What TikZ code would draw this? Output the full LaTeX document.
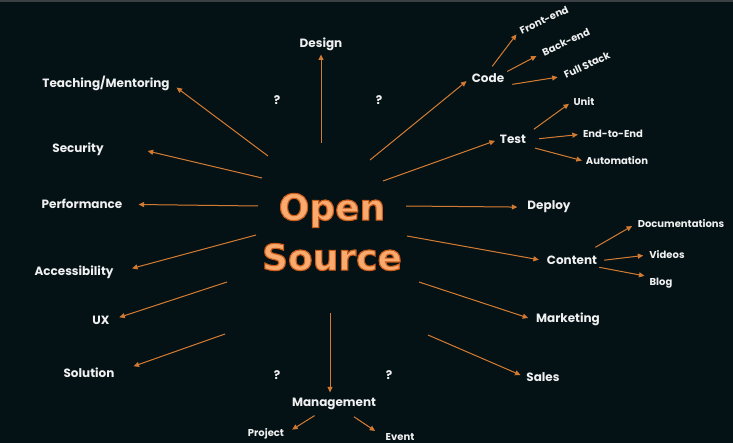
\documentclass[tikz,border=0pt]{standalone}
\usepackage{fontspec}
\setmainfont{Poppins}
\newfontfamily\osfont{DejaVu Sans}
\usetikzlibrary{arrows.meta}

\definecolor{bgdark}{HTML}{041216}
\definecolor{topbar}{HTML}{3A4044}
\definecolor{spokecol}{HTML}{D27A32}
\definecolor{labelcol}{HTML}{F0F0F0}
\definecolor{osfill}{HTML}{F9AA6E}

\begin{document}
\begin{tikzpicture}[
    x=1pt, y=-1pt,
    lbl/.style={font=\bfseries\fontsize{12}{14}\selectfont, text=labelcol, inner sep=2pt, anchor=base},
    sublbl/.style={lbl, font=\bfseries\fontsize{10}{12}\selectfont},
    spoke/.style={-{Triangle[length=5.5pt,width=5pt]}, draw=spokecol, fill=spokecol, line width=1pt},
    ostext/.style={font=\osfont\bfseries\fontsize{36}{50}\selectfont, text=osfill, align=center, inner sep=0pt}
]
% background
\fill[bgdark] (0,0) rectangle (733,443);
\fill[topbar] (0,0) rectangle (733,2.5);

% left side
\node[lbl] (design) at (321,48) {Design};
\node[lbl] (teach) at (106,88) {Teaching/Mentoring};
\node[lbl] (sec) at (78,153) {Security};
\node[lbl] (perf) at (82,209) {Performance};
\node[lbl] (access) at (74,276) {Accessibility};
\node[lbl] (ux) at (101,324) {UX};
\node[lbl] (sol) at (89,377) {Solution};
\node[lbl] (mgmt) at (334,406) {Management};
\node[sublbl] (project) at (266,436) {Project};
\node[sublbl] (event) at (400,440) {Event};

% right side
\node[lbl] (code) at (488,83) {Code};
\node[sublbl, anchor=center, rotate=25] (front) at (544,20) {Front-end};
\node[sublbl, anchor=center, rotate=25] (back) at (566,42) {Back-end};
\node[sublbl, anchor=center, rotate=25] (full) at (587,65) {Full Stack};
\node[lbl] (test) at (513,144) {Test};
\node[sublbl] (unit) at (584,106) {Unit};
\node[sublbl] (e2e) at (613,138) {End-to-End};
\node[sublbl] (auto) at (617,165) {Automation};
\node[lbl] (deploy) at (549,210) {Deploy};
\node[lbl] (content) at (572,265) {Content};
\node[sublbl] (docs) at (681,228) {Documentations};
\node[sublbl] (videos) at (667,259) {Videos};
\node[sublbl] (blog) at (661,286) {Blog};
\node[lbl] (mkt) at (568,323) {Marketing};
\node[lbl] (sales) at (543,381) {Sales};

% open questions
\node[lbl] (q1) at (277,105) {?};
\node[lbl] (q2) at (379,105) {?};
\node[lbl] (q3) at (277,379) {?};
\node[lbl] (q4) at (389,379) {?};

% spoke starts round the centre
\foreach \n/\p in {design/{321,143}, teach/{268,156}, sec/{262,178}, perf/{258,206},
    access/{256,235}, ux/{227,282}, sol/{225,334}, mgmt/{330,313}, sales/{428,335},
    mkt/{419,282}, content/{407,236}, deploy/{406,206}, test/{383,181}, code/{370,160}}
  \coordinate (s-\n) at (\p);

% main spokes
\draw[spoke, shorten >=3pt] (s-mgmt) -- (s-mgmt |- mgmt.north);
\draw[spoke, shorten >=1pt] (s-design) -- (s-design |- design.south);
\foreach \n/\a/\s in {teach/east/6, sec/north east/43, perf/east/14,
    access/east/17, ux/east/8, sol/east/18, sales/west/4, mkt/west/6,
    content/west/6, deploy/west/8, test/west/3, code/west/4}
  \draw[spoke, shorten >=\s pt] (s-\n) -- (\n.\a);

% sub branches
\draw[spoke, shorten <=23pt, shorten >=7pt] (mgmt.center) -- (project.east);
\draw[spoke, shorten <=24pt, shorten >=10pt] (mgmt.center) -- (event.west);
\draw[spoke, shorten <=27pt, shorten >=4pt] (content.center) -- (docs.west);
\draw[spoke, shorten <=5pt, shorten >=4pt] (content.east) -- (videos.west);
\draw[spoke, shorten >=3pt] (content.south east) -- (blog.north west);
\draw[spoke, shorten <=7pt, shorten >=3pt] (test.north east) -- (unit.west);
\draw[spoke, shorten <=11pt, shorten >=3pt] (test.east) -- (e2e.west);
\draw[spoke, shorten <=7pt, shorten >=2pt] (test.south east) -- (auto.west);
\draw[spoke, shorten <=7pt, shorten >=3pt] (code.north) -- (front.west);
\draw[spoke, shorten <=1pt, shorten >=5pt] (code.north east) -- (back.west);
\draw[spoke, shorten <=6pt, shorten >=5pt] (code.south east) -- (full.west);

% centre title
\node[ostext] (os) at (332,232) {\special{pdf:literal 2 Tr 1.1 w 0.80 0.36 0.10 RG}Open\\Source\special{pdf:literal 0 Tr}};
\end{tikzpicture}
\end{document}
